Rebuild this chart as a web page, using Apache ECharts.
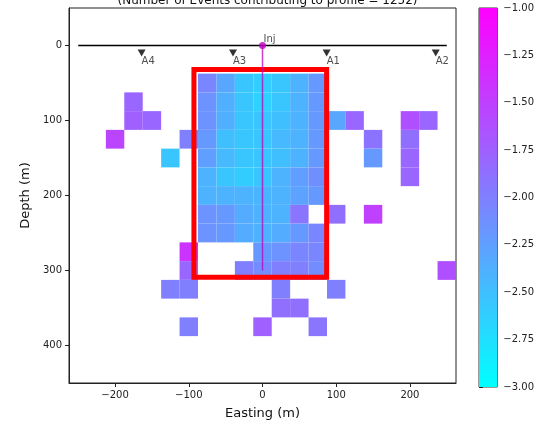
<!DOCTYPE html>
<html><head><meta charset="utf-8">
<script src="https://cdn.jsdelivr.net/npm/echarts@6/dist/echarts.min.js"></script>
<style>html,body{margin:0;padding:0;background:#fff}#c{width:537px;height:425px}</style>
</head><body><div id="c"></div>
<script>
// ---- data ----
const eastings = [-250,-225,-200,-175,-150,-125,-100,-75,-50,-25,0,25,50,75,100,125,150,175,200,225,250];
const depths = [50,75,100,125,150,175,200,225,250,275,300,325,350,375,400];
const N = null;
// log10 event density per cell (rows = depths, columns = eastings)
const cellValues = [
/* 50*/ [N,N,N,N,N,N,N,-2.05,-2.3,-2.55,-2.62,-2.55,-2.4,-2.2,N,N,N,N,N,N,N],
/* 75*/ [N,N,N,-1.8,N,N,N,-2.15,-2.37,-2.55,-2.65,-2.55,-2.4,-2.2,N,N,N,N,N,N,N],
/*100*/ [N,N,N,-1.75,-1.8,N,N,-2.15,-2.37,-2.55,-2.55,-2.5,-2.4,-2.2,-2.3,-1.8,N,N,-1.62,-1.8,N],
/*125*/ [N,N,-1.53,N,N,N,-2.0,-2.2,-2.5,-2.55,-2.55,-2.45,-2.4,-2.2,N,N,-1.9,N,-1.87,N,N],
/*150*/ [N,N,N,N,N,-2.55,N,-2.25,-2.45,-2.55,-2.55,-2.5,-2.4,-2.2,N,N,-2.2,N,-1.8,N,N],
/*175*/ [N,N,N,N,N,N,N,-2.4,-2.55,-2.6,-2.55,-2.4,-2.25,-2.12,N,N,N,N,-1.8,N,N],
/*200*/ [N,N,N,N,N,N,N,-2.4,-2.4,-2.4,-2.42,-2.4,-2.28,-2.2,N,N,N,N,N,N,N],
/*225*/ [N,N,N,N,N,N,N,-2.15,-2.2,-2.35,-2.4,-2.4,-1.92,N,-1.87,N,-1.5,N,N,N,N],
/*250*/ [N,N,N,N,N,N,N,-2.15,-2.2,-2.35,-2.4,-2.35,-2.2,-2.05,N,N,N,N,N,N,N],
/*275*/ [N,N,N,N,N,N,-1.4,N,N,N,-2.2,-2.15,-2.05,-2.05,N,N,N,N,N,N,N],
/*300*/ [N,N,N,N,N,N,-1.8,N,N,-2.0,-2.1,-2.0,-2.0,-2.1,N,N,N,N,N,N,-1.62],
/*325*/ [N,N,N,N,N,-2.0,-2.0,N,N,N,N,-2.0,N,N,-2.0,N,N,N,N,N,N],
/*350*/ [N,N,N,N,N,N,N,N,N,N,N,-1.87,-1.87,N,N,N,N,N,N,N,N],
/*375*/ [N,N,N,N,N,N,-2.0,N,N,N,-1.75,N,N,-1.92,N,N,N,N,N,N,N],
/*400*/ [N,N,N,N,N,N,N,N,N,N,N,N,N,N,N,N,N,N,N,N,N]
];
const xTicks = [-200,-100,0,100,200];
const yTicks = [0,100,200,300,400];
const colorMin = -3, colorMax = -1;
const stationNames = ['A4','A3','A1','A2'];
const stationEasting = [-164,-40,87,235];
const stationDepth = [10,10,10,10];
const surfaceEasting = [-250,250];
const surfaceDepth = [0,0];
const injEasting = 0, injDepth = 0, injBottomDepth = 300;
const boxEasting = [-93,87];
const boxDepth = [32,309];
const titleText = '(Number of Events contributing to profile = 1252)';

// ---- build ----
const cellW = eastings[1]-eastings[0];
const cellH = depths[1]-depths[0];
const cells = [];
depths.forEach((d,i)=>eastings.forEach((e,j)=>{
  const v = cellValues[i][j];
  if (v !== null) cells.push([e,d,v]);
}));
const FONT = 'DejaVu Sans';
const minus = v => String(v).replace('-', '\u2212');

const chart = echarts.init(document.getElementById('c'), null, {renderer:'canvas'});
chart.setOption({
  animation:false,
  textStyle:{fontFamily:FONT},
  title:{text:titleText,left:262.5,textAlign:'center',top:-10,
    textStyle:{fontSize:12,fontWeight:'normal',color:'#111',fontFamily:FONT}},
  grid:[
    {left:69,top:8,width:387,height:379,show:true,borderColor:'#222',borderWidth:1,backgroundColor:'transparent'},
    {left:479,top:8,width:18.5,height:379,show:true,borderColor:'#333',borderWidth:1,backgroundColor:'transparent'}
  ],
  xAxis:[
    {type:'value',gridIndex:0,min:-262.5,max:262.5,
     name:'Easting (m)',nameLocation:'middle',nameGap:24,
     nameTextStyle:{fontSize:13,color:'#111',fontFamily:FONT},
     axisLine:{show:true,onZero:false,lineStyle:{color:'#222',width:1}},
     axisTick:{show:true,length:4,customValues:xTicks,lineStyle:{color:'#222'}},
     axisLabel:{customValues:xTicks,fontSize:10,color:'#222',margin:7,fontFamily:FONT,formatter:minus},
     splitLine:{show:false}},
    {type:'value',gridIndex:1,min:0,max:1,show:false}
  ],
  yAxis:[
    {type:'value',gridIndex:0,min:-50,max:450,inverse:true,
     name:'Depth (m)',nameLocation:'middle',nameGap:29,nameRotate:90,
     nameTextStyle:{fontSize:13,color:'#111',fontFamily:FONT},
     axisLine:{show:true,onZero:false,lineStyle:{color:'#222',width:1}},
     axisTick:{show:true,length:4,customValues:yTicks,lineStyle:{color:'#222'}},
     axisLabel:{customValues:yTicks,fontSize:10,color:'#222',margin:7,fontFamily:FONT,formatter:minus},
     splitLine:{show:false}},
    {type:'value',gridIndex:1,min:colorMin,max:colorMax,interval:0.25,position:'right',
     axisLine:{show:false},
     axisTick:{show:true,length:4,lineStyle:{color:'#222'}},
     axisLabel:{fontSize:10,color:'#222',margin:6,fontFamily:FONT,formatter:v=>minus(v.toFixed(2))},
     splitLine:{show:false}}
  ],
  visualMap:{show:false,seriesIndex:0,dimension:2,min:colorMin,max:colorMax,
    inRange:{color:['#00ffff','#ff00ff']}},
  series:[
    {type:'custom',xAxisIndex:0,yAxisIndex:0,data:cells,z:2,
     renderItem:function(params,api){
       const x=api.value(0), d=api.value(1);
       const p0=api.coord([x-cellW/2,d-cellH/2]);
       const p1=api.coord([x+cellW/2,d+cellH/2]);
       return {type:'rect',shape:{x:Math.min(p0[0],p1[0]),y:Math.min(p0[1],p1[1]),
         width:Math.abs(p1[0]-p0[0]),height:Math.abs(p1[1]-p0[1])},
         style:{fill:api.visual('color')}};
     }},
    {type:'custom',xAxisIndex:0,yAxisIndex:0,z:3,data:[[boxEasting[0],boxDepth[0],boxEasting[1],boxDepth[1]]],
     renderItem:function(params,api){
       const p0=api.coord([api.value(0),api.value(1)]);
       const p1=api.coord([api.value(2),api.value(3)]);
       return {type:'rect',shape:{x:p0[0],y:p0[1],width:p1[0]-p0[0],height:p1[1]-p0[1]},
         style:{fill:null,stroke:'#ff0000',lineWidth:5,lineJoin:'miter'}};
     }},
    {type:'line',xAxisIndex:0,yAxisIndex:0,z:4,symbol:'none',
     data:surfaceEasting.map((e,i)=>[e,surfaceDepth[i]]),
     lineStyle:{color:'#000',width:1.5}},
    {type:'scatter',xAxisIndex:0,yAxisIndex:0,z:5,symbol:'triangle',symbolRotate:180,symbolSize:[8,7],
     itemStyle:{color:'#000'},
     data:stationEasting.map((e,i)=>({value:[e,stationDepth[i]],name:stationNames[i]})),
     label:{show:true,position:'inside',align:'left',verticalAlign:'top',offset:[0,3],
       formatter:p=>p.name,fontSize:10,color:'#222',fontFamily:FONT}},
    {type:'line',xAxisIndex:0,yAxisIndex:0,z:6,symbol:'none',
     data:[[injEasting,injDepth],[injEasting,injBottomDepth]],
     lineStyle:{color:'rgba(191,0,191,0.75)',width:1.5}},
    {type:'scatter',xAxisIndex:0,yAxisIndex:0,z:7,symbol:'circle',symbolSize:7,
     itemStyle:{color:'#bf00bf'},
     data:[{value:[injEasting,injDepth],name:'Inj'}],
     label:{show:true,position:'inside',align:'left',verticalAlign:'bottom',offset:[1,-1],
       formatter:'Inj',fontSize:10,color:'#222',fontFamily:FONT}},
    {type:'custom',xAxisIndex:1,yAxisIndex:1,z:2,data:[[0,colorMin]],clip:false,
     renderItem:function(params,api){
       const p0=api.coord([0,colorMax]);
       const p1=api.coord([1,colorMin]);
       return {type:'rect',shape:{x:p0[0],y:p0[1],width:p1[0]-p0[0],height:p1[1]-p0[1]},
         style:{fill:new echarts.graphic.LinearGradient(0,0,0,1,[{offset:0,color:'#ff00ff'},{offset:1,color:'#00ffff'}])}};
     }}
  ]
});
</script></body></html>
